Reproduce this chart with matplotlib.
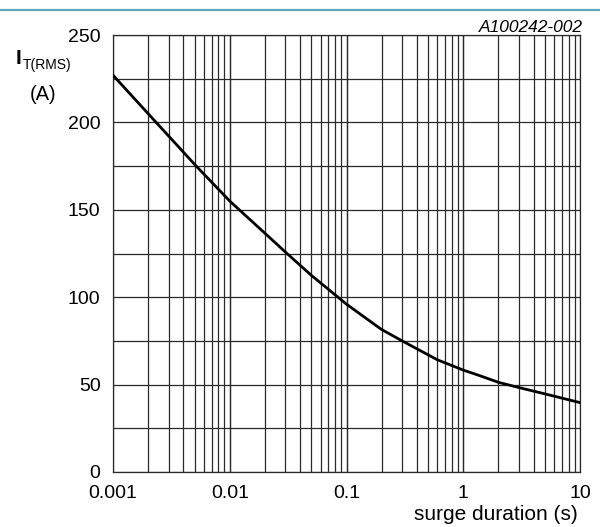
import matplotlib
matplotlib.use("Agg")
import matplotlib.pyplot as plt
from matplotlib.lines import Line2D

plt.rcParams['font.family'] = ['Liberation Sans', 'DejaVu Sans']

# data
duration_s = [0.001, 0.002, 0.005, 0.01, 0.02, 0.03, 0.05, 0.07, 0.1, 0.15, 0.2, 0.3, 0.4,
              0.6, 1, 1.4, 2, 3, 5, 10]
current_a = [227, 205, 176, 155, 136.6, 125.8, 112.5, 104.5, 96, 87.5, 81.5, 75, 70.5,
             64.2, 58.3, 55, 51.3, 48.3, 44.7, 39.7]

x_ticks = [0.001, 0.01, 0.1, 1, 10]
x_tick_labels = ['0.001', '0.01', '0.1', '1', '10']
y_ticks = [0, 50, 100, 150, 200, 250]
y_grid = list(range(0, 251, 25))

fig = plt.figure(figsize=(6.0, 5.27), dpi=100)
ax = fig.add_axes([113/600, 1 - 472/527, (580-113)/600, (472-35)/527])

ax.set_xscale('log')
ax.set_xlim(0.001, 10)
ax.set_ylim(0, 250)

# grid
grid_color = '#2a2a2a'
for dec in [0.001, 0.01, 0.1, 1]:
    for m in range(1, 11):
        ax.axvline(dec * m, color=grid_color, lw=0.9, zorder=1)
for yv in y_grid:
    ax.axhline(yv, color=grid_color, lw=0.9, zorder=1)

ax.plot(duration_s, current_a, color='black', lw=2.0, zorder=3,
        solid_capstyle='round', solid_joinstyle='round')

ax.set_xticks(x_ticks)
ax.set_xticklabels(x_tick_labels)
ax.xaxis.set_minor_locator(matplotlib.ticker.NullLocator())
ax.set_yticks(y_ticks)
ax.tick_params(length=0, labelsize=14)
ax.tick_params(axis='x', pad=9)
ax.tick_params(axis='y', pad=9)
for s in ax.spines.values():
    s.set_color(grid_color)
    s.set_linewidth(0.9)

# axis labels
fig.text(578/600, 1 - 520/527, 'surge duration (s)', ha='right', va='baseline', fontsize=15)
fig.text(15.5/600, 1 - 64/527, 'I', ha='left', va='baseline', fontsize=15, fontweight='bold')
fig.text(22.5/600, 1 - 69/527, 'T(RMS)', ha='left', va='baseline', fontsize=10)
fig.text(43/600, 1 - 100/527, '(A)', ha='center', va='baseline', fontsize=14.5)

# figure id
fig.text(583/600, 1 - 32/527, 'A100242-002', ha='right', va='baseline', fontsize=12.5, style='italic')

# top rule
fig.add_artist(Line2D([0, 1], [1 - 9.5/527, 1 - 9.5/527], color='#5ea6bd', lw=1.6,
                      transform=fig.transFigure))

fig.savefig('out.png', dpi=100)
